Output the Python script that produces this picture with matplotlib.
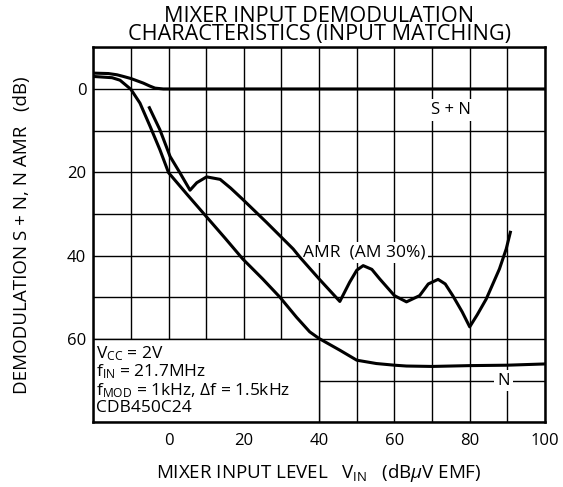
import numpy as np
import matplotlib.pyplot as plt
from matplotlib.patches import Rectangle

plt.rcParams['font.family'] = ['Open Sans', 'DejaVu Sans']
plt.rcParams['mathtext.fontset'] = 'custom'
plt.rcParams['mathtext.rm'] = 'Open Sans'
plt.rcParams['mathtext.it'] = 'Open Sans:italic'

# S + N curve (dB)
sn_x = [-20, -16, -13.7, -12, -10, -8.5, -6.7, -5, -3.6, -1.4, 0, 20, 40, 60, 80, 100]
sn_y = [-3.8, -3.7, -3.4, -3.0, -2.5, -2.0, -1.4, -0.7, -0.2, 0, 0, 0, 0, 0, 0, 0]

# N curve
n_x = [-20, -15, -12.9, -10, -7.6, -4.9, -2.3, 0, 5, 9.9, 15, 19.7, 25, 29.6, 34, 37.5, 40,
       45.5, 50, 55.2, 60, 63.2, 70, 80, 90, 100]
n_y = [-3.0, -2.7, -2.1, 0.1, 3.4, 9, 14.6, 20.1, 25.4, 30.5, 35.8, 40.8, 45.6, 50, 54.8, 58.3, 59.9,
       62.7, 65.1, 65.9, 66.3, 66.5, 66.6, 66.4, 66.3, 66.0]

# AMR (AM 30%) curve
amr_x = [-5.1, -2.3, 0.4, 3, 5.7, 7.5, 10.1, 13.7, 16.5, 19.7, 26, 33.1, 34.9, 40, 45.5,
         48.1, 50, 51.7, 54, 56.1, 60, 63.2, 66.7, 69, 71.6, 73.5, 75.5, 78, 80,
         82, 84.4, 87.9, 89.7, 90.8]
amr_y = [4.5, 9.8, 16.2, 20.1, 24.3, 22.5, 21.1, 21.7, 23.8, 26.5, 32, 38.4, 40.4, 45.6, 51,
         46.4, 43.5, 42.4, 43.3, 45.6, 49.6, 51.1, 49.6, 46.8, 45.7, 46.8, 49.6, 53.5, 57.1,
         54.2, 50.4, 43.2, 38.4, 34.4]

fig = plt.figure(figsize=(5.63, 4.87), dpi=100)
ax = fig.add_axes([0.1657, 0.1329, 0.8023, 0.77])

ax.set_xlim(-20, 100)
ax.set_ylim(80, -10)
ax.set_xticks(np.arange(-20, 101, 10), minor=True)
ax.set_yticks(np.arange(-10, 81, 10), minor=True)
ax.set_xticks([0, 20, 40, 60, 80, 100])
ax.set_yticks([0, 20, 40, 60])
ax.set_axisbelow(True)
ax.grid(True, which='both', color='black', linewidth=1.0)
ax.tick_params(which='both', length=0, labelsize=12)
ax.tick_params(axis='x', pad=8)
ax.tick_params(axis='y', pad=5)
for s in ax.spines.values():
    s.set_linewidth(1.8)

# conditions box in the lower-left corner hides the grid
ax.add_patch(Rectangle((-20, 60), 60, 20, facecolor='white', edgecolor='black',
                       linewidth=1.0, zorder=1))

ax.plot(sn_x, sn_y, color='black', linewidth=2.2, zorder=4)
ax.plot(n_x, n_y, color='black', linewidth=2.2, zorder=4)
ax.plot(amr_x, amr_y, color='black', linewidth=2.2, zorder=4)

box = dict(facecolor='white', edgecolor='none', pad=2)
ax.text(75, 5, 'S + N', fontsize=12, ha='center', va='center', bbox=box, zorder=3)
ax.text(52, 39.3, 'AMR  (AM 30%)', fontsize=12.5, ha='center', va='center', bbox=box, zorder=3)
ax.text(89, 70, 'N', fontsize=12, ha='center', va='center', bbox=box, zorder=3)

ax.text(-19.3, 61.2,
        'V$_{\\mathrm{CC}}$ = 2V\n'
        'f$_{\\mathrm{IN}}$ = 21.7MHz\n'
        'f$_{\\mathrm{MOD}}$ = 1kHz, $\\mathit{\\Delta}$f = 1.5kHz\n'
        'CDB450C24',
        fontsize=12.5, ha='left', va='top', linespacing=1.0, zorder=3)

ax.set_title('MIXER INPUT DEMODULATION\nCHARACTERISTICS (INPUT MATCHING)',
             fontsize=15.6, linespacing=0.82, pad=5)
ax.set_xlabel('MIXER INPUT LEVEL   V$_{\\mathrm{IN}}$   (dB$\\mu$V EMF)', fontsize=13.5, labelpad=9)
ax.set_ylabel('DEMODULATION S + N, N AMR   (dB)', fontsize=13.5, labelpad=26)

fig.savefig('out.png', dpi=100)
